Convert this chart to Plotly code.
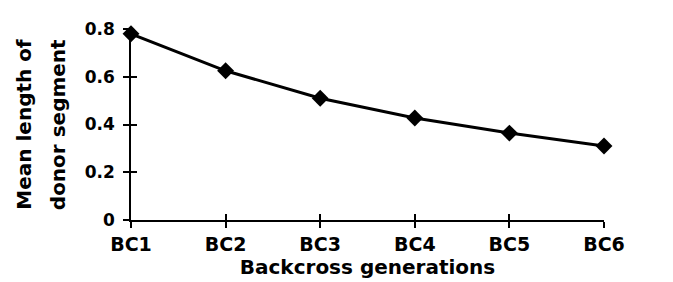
import plotly.graph_objects as go

categories = ["BC1", "BC2", "BC3", "BC4", "BC5", "BC6"]
mean_length = [0.78, 0.625, 0.51, 0.427, 0.364, 0.31]
y_ticks = [0, 0.2, 0.4, 0.6, 0.8]
y_tick_labels = ["0", "0.2", "0.4", "0.6", "0.8"]
y_title_lines = ["Mean length of", "donor segment"]
x_title = "Backcross generations"

pos = list(range(len(categories)))
FONT = "DejaVu Sans"

fig = go.Figure()
fig.add_trace(go.Scatter(
    x=pos, y=mean_length, mode="lines+markers",
    line=dict(color="black", width=3),
    marker=dict(symbol="diamond", size=13, color="black"),
    cliponaxis=False, showlegend=False,
))
# invisible trace for overlay axes (inside half of the crossing ticks)
fig.add_trace(go.Scatter(x=pos, y=mean_length, xaxis="x2", yaxis="y2",
                         mode="markers", marker=dict(opacity=0),
                         showlegend=False, hoverinfo="skip"))

for xp, txt in zip([-0.228, -0.155], y_title_lines):
    fig.add_annotation(text="<b>" + txt + "</b>", xref="paper", yref="paper",
                       x=xp, y=0.5, xanchor="center", yanchor="middle",
                       textangle=-90, showarrow=False,
                       font=dict(family=FONT, size=20, color="black"))

fig.update_layout(
    width=665, height=274,
    margin=dict(l=123, r=69, t=21, b=62),
    paper_bgcolor="white", plot_bgcolor="white",
    font=dict(family=FONT, color="black"),
    xaxis=dict(
        range=[0, len(categories) - 1], tickvals=pos, ticktext=categories,
        showgrid=False, zeroline=False, showline=True, linecolor="black", linewidth=1.5,
        ticks="outside", ticklen=6, tickwidth=1.5, tickcolor="black",
        tickfont=dict(family=FONT, size=19, weight="bold"),
        ticklabelstandoff=0,
        title=dict(text="<b>" + x_title + "</b>", font=dict(family=FONT, size=20), standoff=0),
        automargin=False,
    ),
    yaxis=dict(
        range=[0, 0.8], tickvals=y_ticks, ticktext=y_tick_labels,
        showgrid=False, zeroline=False, showline=True, linecolor="black", linewidth=1.5,
        ticks="outside", ticklen=6, tickwidth=1.5, tickcolor="black",
        tickfont=dict(family=FONT, size=17, weight="bold"),
        ticklabelstandoff=5,
        automargin=False,
    ),
    xaxis2=dict(
        overlaying="x", anchor="y2", range=[0, len(categories) - 1], tickvals=pos,
        showticklabels=False, showgrid=False, zeroline=False, showline=False,
        ticks="inside", ticklen=6, tickwidth=1.5, tickcolor="black",
    ),
    yaxis2=dict(
        overlaying="y", anchor="x2", range=[0, 0.8], tickvals=y_ticks,
        showticklabels=False, showgrid=False, zeroline=False, showline=False,
        ticks="inside", ticklen=6, tickwidth=1.5, tickcolor="black",
    ),
)

fig.write_html("out.html")
